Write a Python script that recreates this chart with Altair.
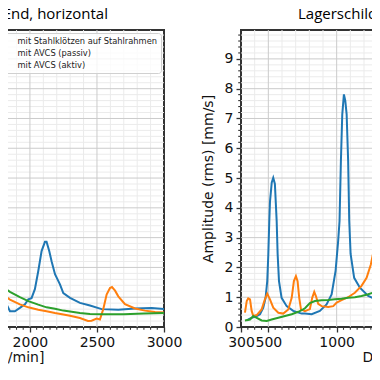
import altair as alt
import pandas as pd

series = ["mit Stahlklötzen auf Stahlrahmen", "mit AVCS (passiv)", "mit AVCS (aktiv)"]
colors = ["#1f77b4", "#ff7f0e", "#2ca02c"]

titles = ["Lagerschild Non-Drive End, horizontal", "Lagerschild Drive End, horizontal"]
x_title = "Drehzahl [1/min]"
y_title = "Amplitude (rms) [mm/s]"

x_labels = [300, 500, 1000, 1500, 2000, 2500, 3000]
y_labels = [0, 1, 2, 3, 4, 5, 6, 7, 8, 9]
x_major_grid = [500, 1000, 1500, 2000, 2500]
x_minor_grid = [v for v in range(400, 3000, 100) if v % 500 != 0]
x_minor_ticks = [v for v in range(350, 3000, 50) if v % 500 != 0]
y_major_grid = [1, 2, 3, 4, 5, 6, 7, 8, 9]
y_minor_grid = [round(i * 0.2, 1) for i in range(1, 50) if i % 5 != 0]

# left panel (visible part)
l_blue_rpm = [1750, 1776, 1801, 1826, 1851, 1888, 1925, 1963, 1988, 2012, 2037, 2062, 2087, 2112, 2124, 2144, 2162, 2187, 2224, 2249, 2299, 2373, 2448, 2535, 2659, 2784, 2908, 3000]
l_blue_val = [0.90, 0.87, 0.60, 0.76, 0.53, 0.53, 0.64, 0.76, 0.93, 0.97, 1.27, 1.87, 2.55, 2.86, 2.86, 2.55, 2.20, 1.77, 1.43, 1.14, 0.98, 0.81, 0.72, 0.60, 0.58, 0.62, 0.64, 0.60]
l_orng_rpm = [1750, 1776, 1851, 1925, 1988, 2062, 2124, 2187, 2249, 2299, 2373, 2433, 2460, 2498, 2522, 2547, 2572, 2597, 2612, 2635, 2659, 2709, 2784, 2858, 2933, 3000]
l_orng_val = [1.20, 1.15, 0.92, 0.76, 0.66, 0.58, 0.53, 0.47, 0.42, 0.38, 0.30, 0.20, 0.21, 0.28, 0.25, 0.60, 1.09, 1.31, 1.34, 1.22, 1.03, 0.77, 0.62, 0.55, 0.50, 0.49]
l_gren_rpm = [1750, 1776, 1851, 1925, 1988, 2062, 2124, 2187, 2249, 2299, 2373, 2448, 2550, 2700, 2850, 3000]
l_gren_val = [1.50, 1.43, 1.18, 1.00, 0.87, 0.75, 0.66, 0.61, 0.55, 0.52, 0.47, 0.44, 0.43, 0.43, 0.45, 0.47]

# right panel (visible part)
r_blue_rpm = [342, 378, 415, 439, 463, 480, 492, 500, 507, 512, 525, 536, 548, 561, 568, 578, 597, 634, 682, 744, 768, 817, 877, 926, 963, 992, 1011, 1021, 1031, 1041, 1053, 1063, 1073, 1084, 1092, 1102, 1128, 1170, 1231, 1316, 1400]
r_blue_val = [0.22, 0.31, 0.37, 0.43, 0.65, 0.98, 1.54, 2.45, 3.56, 4.20, 4.85, 5.01, 4.80, 3.56, 2.45, 1.54, 0.98, 0.70, 0.54, 0.45, 0.45, 0.43, 0.54, 0.76, 1.09, 1.88, 2.89, 3.56, 5.57, 7.14, 7.81, 7.60, 7.14, 5.57, 3.56, 2.45, 1.65, 1.32, 1.04, 0.87, 0.75]
r_orng_rpm = [329, 342, 353, 366, 378, 390, 415, 451, 475, 492, 512, 536, 573, 609, 646, 671, 687, 702, 714, 726, 739, 768, 804, 821, 836, 848, 865, 890, 938, 975, 1000, 1036, 1084, 1133, 1182, 1219, 1250, 1280, 1316, 1340, 1370]
r_orng_val = [0.48, 0.87, 0.96, 0.93, 0.54, 0.37, 0.40, 0.59, 0.93, 1.12, 0.93, 0.65, 0.48, 0.45, 0.59, 0.98, 1.54, 1.71, 1.54, 0.98, 0.59, 0.53, 0.60, 0.98, 1.18, 1.04, 0.78, 0.70, 0.67, 0.70, 0.82, 0.90, 1.00, 1.15, 1.38, 1.65, 2.10, 2.77, 3.56, 4.30, 5.00]
r_gren_rpm = [329, 366, 390, 415, 451, 488, 524, 573, 622, 671, 719, 755, 768, 804, 841, 890, 938, 987, 1036, 1084, 1133, 1182, 1231, 1280, 1316, 1400]
r_gren_val = [0.22, 0.25, 0.37, 0.31, 0.22, 0.20, 0.25, 0.31, 0.37, 0.43, 0.51, 0.59, 0.63, 0.80, 0.87, 0.90, 0.91, 0.93, 0.95, 0.98, 1.00, 1.04, 1.10, 1.17, 1.23, 1.30]


def frame(rpms, vals):
    rows = []
    for s, r, v in zip(series, rpms, vals):
        for a, b in zip(r, v):
            rows.append({"rpm": a, "amp": b, "serie": s})
    return pd.DataFrame(rows)


left_df = frame([l_blue_rpm, l_orng_rpm, l_gren_rpm], [l_blue_val, l_orng_val, l_gren_val])
right_df = frame([r_blue_rpm, r_orng_rpm, r_gren_rpm], [r_blue_val, r_orng_val, r_gren_val])

MAJ = "#cbcbcb"
MIN = "#ebebeb"
TICK = "#333333"
H = 297
XS = alt.Scale(domain=[300, 3000], nice=False, zero=False)
YS = alt.Scale(domain=[0, 9.97], nice=False, zero=False)


def xaxis(tx):
    return alt.Axis(values=x_labels, format="d", title=x_title, grid=False,
                    tickSize=5, tickColor=TICK, tickWidth=1.3, titleX=tx,
                    labelOverlap=False, labelFlush=False, labelPadding=3, titlePadding=1,
                    domain=False)


def yaxis(show):
    if show:
        return alt.Axis(values=y_labels, format="d", title=y_title, grid=False,
                        tickSize=5, tickColor=TICK, tickWidth=1.3,
                        labelOverlap=False, labelFlush=False, labelPadding=3, titlePadding=9,
                        domain=False)
    return None


def panel(df, title, w, show_y, legend, anchor, dx, tx):
    ya = yaxis(show_y)
    xa = xaxis(tx)

    def vgrid(vals, color):
        return alt.Chart(pd.DataFrame({"rpm": vals})).mark_rule(color=color, strokeWidth=1).encode(
            x=alt.X("rpm:Q", scale=XS, axis=xa))

    def hgrid(vals, color):
        return alt.Chart(pd.DataFrame({"amp": vals})).mark_rule(color=color, strokeWidth=1).encode(
            y=alt.Y("amp:Q", scale=YS, axis=ya))

    color_legend = None
    if legend:
        color_legend = alt.Legend(title=None, orient="top-right", offset=3,
                                  labelFont="DejaVu Sans", labelFontSize=8.3, labelColor="#222",
                                  symbolOpacity=0, symbolStrokeWidth=0, symbolType="stroke",
                                  labelOffset=70, padding=3.5, rowPadding=3,
                                  fillColor="rgba(255,255,255,0.8)", strokeColor="#d0d0d0",
                                  cornerRadius=3)
    lines = alt.Chart(df).mark_line(strokeWidth=2, clip=True).encode(
        x=alt.X("rpm:Q", scale=XS, axis=xa),
        y=alt.Y("amp:Q", scale=YS, axis=ya),
        color=alt.Color("serie:N", scale=alt.Scale(domain=series, range=colors), legend=color_legend),
    )
    xticks = alt.Chart(pd.DataFrame({"rpm": x_minor_ticks})).mark_rule(
        color=TICK, strokeWidth=1.1, clip=False).encode(
        x=alt.X("rpm:Q", scale=XS, axis=xa), y=alt.value(H), y2=alt.value(H + 2.8))
    layers = [vgrid(x_minor_grid, MIN), hgrid(y_minor_grid, MIN),
              vgrid(x_major_grid, MAJ), hgrid(y_major_grid, MAJ), xticks]
    if show_y:
        yticks = alt.Chart(pd.DataFrame({"amp": y_minor_grid})).mark_rule(
            color=TICK, strokeWidth=1.1, clip=False).encode(
            y=alt.Y("amp:Q", scale=YS, axis=ya), x=alt.value(0), x2=alt.value(-2.8))
        layers.append(yticks)
    layers.append(lines)
    return alt.layer(*layers).properties(
        width=w, height=H,
        title=alt.TitleParams(text=title, anchor=anchor, dx=dx, dy=16.3, offset=8.5, fontSize=15, frame="group",
                              font="Open Sans", fontWeight="normal", baseline="bottom", color="#000"),
    )


left = panel(left_df, titles[0], 362, False, True, "end", -56, 183)
right = panel(right_df, titles[1], 369, True, False, "start", 57, 180)

chart = alt.hconcat(left, right, spacing=77, bounds="flush").resolve_scale(color="independent").configure(
    background="white",
    padding={"left": -221, "top": -2, "right": -257, "bottom": 0},
).configure_view(
    stroke="#333", strokeWidth=2,
).configure_axis(
    labelFont="DejaVu Sans", labelFontSize=14, labelColor="#111",
    titleFont="DejaVu Sans", titleFontSize=14, titleFontWeight="normal", titleColor="#111",
)

chart.save("out.html", embed_options={"renderer": "svg", "actions": False})
